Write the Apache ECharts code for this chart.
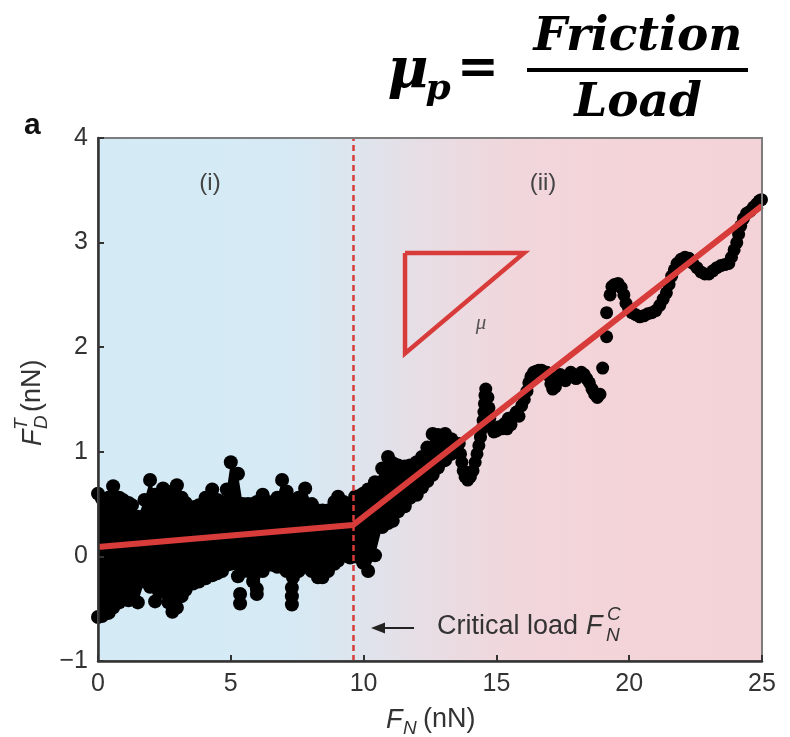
<!DOCTYPE html>
<html><head><meta charset="utf-8">
<script src="https://cdn.jsdelivr.net/npm/echarts@6/dist/echarts.min.js"></script>
<style>html,body{margin:0;padding:0;background:#fff}#c{width:790px;height:737px}</style>
</head><body><div id="c"></div>
<script>
// ---- data ----
const xTicks = [0, 5, 10, 15, 20, 25];
const yTicks = [-1, 0, 1, 2, 3, 4];
const criticalLoad = 9.6;

// dense band of measured points (dot centres of upper / lower envelope)
const bandX = [0,0.15,0.4,0.57,0.8,0.94,1.15,1.28,1.5,1.75,1.96,2.15,2.45,2.65,2.8,2.97,3.15,3.3,3.58,3.8,4.05,4.3,4.5,4.67,4.85,5.0,5.27,5.45,5.65,5.84,5.98,6.2,6.4,6.55,6.75,6.93,7.1,7.34,7.55,7.8,8.05,8.28,8.45,8.66,8.9,9.04,9.25,9.49,9.68,9.86,9.98,10.17,10.43,10.7,10.92,11.1,11.3,11.55,11.75,12.0,12.2,12.4,12.6,12.8,13.07,13.3,13.5];
const bandUpper = [0.60,0.55,0.56,0.67,0.56,0.54,0.51,0.49,0.38,0.54,0.73,0.59,0.65,0.56,0.62,0.68,0.56,0.51,0.47,0.49,0.56,0.64,0.54,0.52,0.64,0.90,0.79,0.50,0.50,0.50,0.52,0.59,0.52,0.50,0.56,0.73,0.62,0.54,0.56,0.65,0.50,0.44,0.44,0.44,0.52,0.57,0.52,0.50,0.57,0.58,0.60,0.64,0.71,0.84,0.95,0.89,0.87,0.86,0.87,0.90,0.95,1.04,1.17,1.16,1.17,1.12,1.04];
const bandLower = [-0.58,-0.57,-0.54,-0.49,-0.44,-0.40,-0.42,-0.36,-0.44,-0.24,-0.29,-0.43,-0.34,-0.44,-0.53,-0.49,-0.38,-0.32,-0.26,-0.24,-0.21,-0.18,-0.16,-0.14,-0.08,-0.07,-0.19,-0.14,-0.14,-0.24,-0.31,-0.14,-0.07,-0.08,-0.10,-0.10,-0.14,-0.20,-0.14,-0.10,-0.14,-0.20,-0.20,-0.14,-0.07,-0.04,0.01,-0.01,0.00,0.07,-0.06,-0.14,0.01,0.28,0.32,0.34,0.43,0.48,0.56,0.59,0.66,0.72,0.78,0.85,0.92,0.98,1.01];

// isolated low points below the band
const outlierX = [5.35,5.35,5.98,7.3,7.3,7.3];
const outlierY = [-0.36,-0.45,-0.36,-0.30,-0.38,-0.46];

// thin trace of points at higher load
const traceX = [13.6,13.65,13.7,13.75,13.82,13.92,14.02,14.12,14.2,14.27,14.34,14.4,14.46,14.5,14.53,14.55,14.57,14.6,14.68,14.72,14.75,14.8,14.9,15.0,15.1,15.2,15.3,15.4,15.45,15.55,15.65,15.75,15.85,15.95,16.05,16.15,16.22,16.3,16.4,16.5,16.6,16.7,16.8,16.9,17.0,17.05,17.12,17.22,17.3,17.4,17.5,17.6,17.7,17.8,17.9,18.0,18.1,18.2,18.3,18.4,18.5,18.6,18.7,18.8,18.9,19.0,19.15,19.15,19.28,19.35,19.45,19.58,19.7,19.8,19.88,19.98,20.1,20.25,20.4,20.55,20.7,20.85,21.0,21.15,21.28,21.4,21.5,21.6,21.7,21.8,21.95,22.1,22.25,22.4,22.55,22.7,22.85,23.0,23.15,23.3,23.45,23.6,23.75,23.85,23.95,24.05,24.12,24.2,24.3,24.42,24.55,24.68,24.8,24.9,24.98];
const traceY = [1.08,0.98,0.90,0.82,0.76,0.73,0.76,0.82,0.90,0.98,1.06,1.14,1.22,1.30,1.38,1.46,1.54,1.60,1.52,1.42,1.32,1.24,1.19,1.20,1.24,1.22,1.27,1.22,1.32,1.26,1.34,1.38,1.34,1.44,1.50,1.58,1.66,1.72,1.76,1.77,1.78,1.78,1.76,1.76,1.72,1.65,1.60,1.62,1.68,1.74,1.72,1.68,1.72,1.76,1.74,1.70,1.72,1.76,1.74,1.70,1.66,1.60,1.55,1.52,1.55,1.80,2.10,2.33,2.50,2.58,2.60,2.61,2.57,2.50,2.42,2.37,2.33,2.31,2.29,2.30,2.32,2.33,2.35,2.40,2.46,2.52,2.60,2.68,2.74,2.80,2.84,2.86,2.85,2.80,2.76,2.72,2.70,2.70,2.73,2.76,2.78,2.79,2.80,2.86,2.93,3.00,3.08,3.16,3.23,3.28,3.30,3.34,3.37,3.40,3.41];

// two-regime linear fit
const fitX = [0, 9.6, 25];
const fitY = [0.09, 0.30, 3.35];

// slope triangle
const triX = [11.56, 16.04, 11.56, 11.56];
const triY = [2.90, 2.90, 1.94, 2.90];

// ---- chart ----
const pairs = (xs, ys) => xs.map((x, i) => [x, ys[i]]);
const RED = '#d83c3a';
const FONT = '"Liberation Sans", Arial, sans-serif';
const DOT = 14;
const chart = echarts.init(document.getElementById('c'), null, {renderer: 'canvas'});

const txt = (x, y, text, font, extra) => ({
  type: 'text', x: x, y: y, z: 100,
  style: Object.assign({text: text, font: font, fill: '#222', textAlign: 'left', textVerticalAlign: 'middle', align: 'left', verticalAlign: 'middle'}, extra || {})
});

const option = {
  animation: false,
  backgroundColor: '#fff',
  grid: {left: 98, right: 28, top: 138, bottom: 76, show: true, borderColor: '#7d7d7d', borderWidth: 2, backgroundColor: 'transparent', z: 10},
  xAxis: {
    type: 'value', min: 0, max: 25, interval: 5, z: 10,
    axisLine: {onZero: false, lineStyle: {color: '#333', width: 2.5}},
    axisTick: {inside: true, length: 6, lineStyle: {color: '#333', width: 2}},
    axisLabel: {color: '#333', fontSize: 25, fontFamily: FONT, margin: 11},
    splitLine: {show: false}
  },
  yAxis: {
    type: 'value', min: -1, max: 4, interval: 1, z: 10,
    axisLine: {onZero: false, lineStyle: {color: '#333', width: 2.5}},
    axisTick: {inside: true, length: 6, lineStyle: {color: '#333', width: 2}},
    axisLabel: {color: '#333', fontSize: 25, fontFamily: FONT, margin: 10,
      formatter: v => v < 0 ? '\u2212' + Math.abs(v) : String(v)},
    splitLine: {show: false}
  },
  series: [
    {
      name: 'bg', type: 'line', data: [[0, -1]], symbol: 'none', lineStyle: {opacity: 0}, z: 1, silent: true,
      markArea: {
        silent: true,
        itemStyle: {color: {type: 'linear', x: 0, y: 0, x2: 1, y2: 0, colorStops: [
          {offset: 0, color: '#d4ebf6'}, {offset: 0.28, color: '#d5eaf5'}, {offset: 0.38, color: '#dde5ee'},
          {offset: 0.5, color: '#e8dde4'}, {offset: 0.62, color: '#f0d7dc'}, {offset: 0.75, color: '#f3d4d9'}, {offset: 1, color: '#f4d3d8'}]}},
        data: [[{xAxis: 0, yAxis: -1}, {xAxis: 25, yAxis: 4}]]
      }
    },
    {
      name: 'band', type: 'custom', z: 3, clip: true,
      data: pairs(bandX, bandUpper),
      encode: {x: 0, y: 1},
      renderItem: function (params, api) {
        if (params.dataIndex !== 0) return null;
        const pts = [];
        for (let i = 0; i < bandX.length; i++) pts.push(api.coord([bandX[i], bandUpper[i]]));
        for (let i = bandX.length - 1; i >= 0; i--) pts.push(api.coord([bandX[i], bandLower[i]]));
        return {type: 'polygon', shape: {points: pts}, style: {fill: '#000'}};
      }
    },
    {name: 'upper', type: 'scatter', z: 4, symbolSize: DOT, itemStyle: {color: '#000', opacity: 1}, data: pairs(bandX, bandUpper)},
    {name: 'lower', type: 'scatter', z: 4, symbolSize: DOT, itemStyle: {color: '#000', opacity: 1}, data: pairs(bandX, bandLower)},
    {name: 'outliers', type: 'scatter', z: 4, symbolSize: DOT, itemStyle: {color: '#000', opacity: 1}, data: pairs(outlierX, outlierY)},
    {name: 'trace', type: 'scatter', z: 4, symbolSize: 13, itemStyle: {color: '#000', opacity: 1}, data: pairs(traceX, traceY)},
    {
      name: 'fit', type: 'line', z: 6, symbol: 'none', data: pairs(fitX, fitY),
      lineStyle: {color: RED, width: 6},
      markLine: {
        silent: true, symbol: 'none', label: {show: false},
        lineStyle: {color: RED, width: 2.5, type: [6, 4]},
        data: [{xAxis: criticalLoad}]
      }
    },
    {name: 'triangle', type: 'line', z: 6, symbol: 'none', data: pairs(triX, triY), lineStyle: {color: RED, width: 4.5, join: 'miter'}}
  ],
  graphic: [
    // panel letter
    txt(24, 126, 'a', 'bold 30px ' + FONT, {fill: '#111'}),
    // formula
    txt(408, 72, 'μ', 'bold italic 56px "DejaVu Serif", serif', {textAlign: 'center', align: 'center', fill: '#000'}),
    txt(438, 90, 'p', 'bold italic 36px "DejaVu Serif", serif', {textAlign: 'center', align: 'center', fill: '#000'}),
    txt(478, 70, '=', 'bold 50px "DejaVu Serif", serif', {textAlign: 'center', align: 'center', fill: '#000'}),
    {type: 'rect', z: 100, shape: {x: 527, y: 68, width: 221, height: 4}, style: {fill: '#000'}},
    txt(638, 38, 'Friction', 'bold italic 47px "DejaVu Serif", serif', {textAlign: 'center', align: 'center', fill: '#000'}),
    txt(638, 104, 'Load', 'bold italic 47px "DejaVu Serif", serif', {textAlign: 'center', align: 'center', fill: '#000'}),
    // region labels
    txt(210, 183, '(i)', '24px ' + FONT, {textAlign: 'center', align: 'center', fill: '#444'}),
    txt(543, 183, '(ii)', '24px ' + FONT, {textAlign: 'center', align: 'center', fill: '#444'}),
    txt(481, 323, 'μ', 'italic 21px "Liberation Serif", serif', {textAlign: 'center', align: 'center', fill: '#555'}),
    // critical load annotation
    {type: 'line', z: 100, shape: {x1: 414, y1: 628, x2: 380, y2: 628}, style: {stroke: '#222', lineWidth: 2}},
    {type: 'polygon', z: 100, shape: {points: [[371, 628], [385, 622.5], [385, 633.5]]}, style: {fill: '#222'}},
    txt(437, 627, 'Critical load', '27px ' + FONT, {fill: '#333'}),
    txt(586, 626, 'F', 'italic 27px ' + FONT, {fill: '#333'}),
    txt(607, 615, 'C', 'italic 19px ' + FONT, {fill: '#333'}),
    txt(606, 636, 'N', 'italic 19px ' + FONT, {fill: '#333'}),
    // x axis title
    txt(386, 720, 'F', 'italic 27px ' + FONT, {fill: '#333'}),
    txt(403, 729, 'N', 'italic 19px ' + FONT, {fill: '#333'}),
    txt(423, 720, '(nN)', '27px ' + FONT, {fill: '#333'}),
    // y axis title (rotated group)
    {
      type: 'group', x: 33, y: 400, rotation: Math.PI / 2, z: 100,
      children: [
        txt(-46, 0, 'F', 'italic 27px ' + FONT, {fill: '#333'}),
        txt(-29, 9, 'D', 'italic 19px ' + FONT, {fill: '#333'}),
        txt(-30, -11, 'T', 'italic 19px ' + FONT, {fill: '#333'}),
        txt(-12, 0, '(nN)', '27px ' + FONT, {fill: '#333'})
      ]
    }
  ]
};
chart.setOption(option);
</script></body></html>
